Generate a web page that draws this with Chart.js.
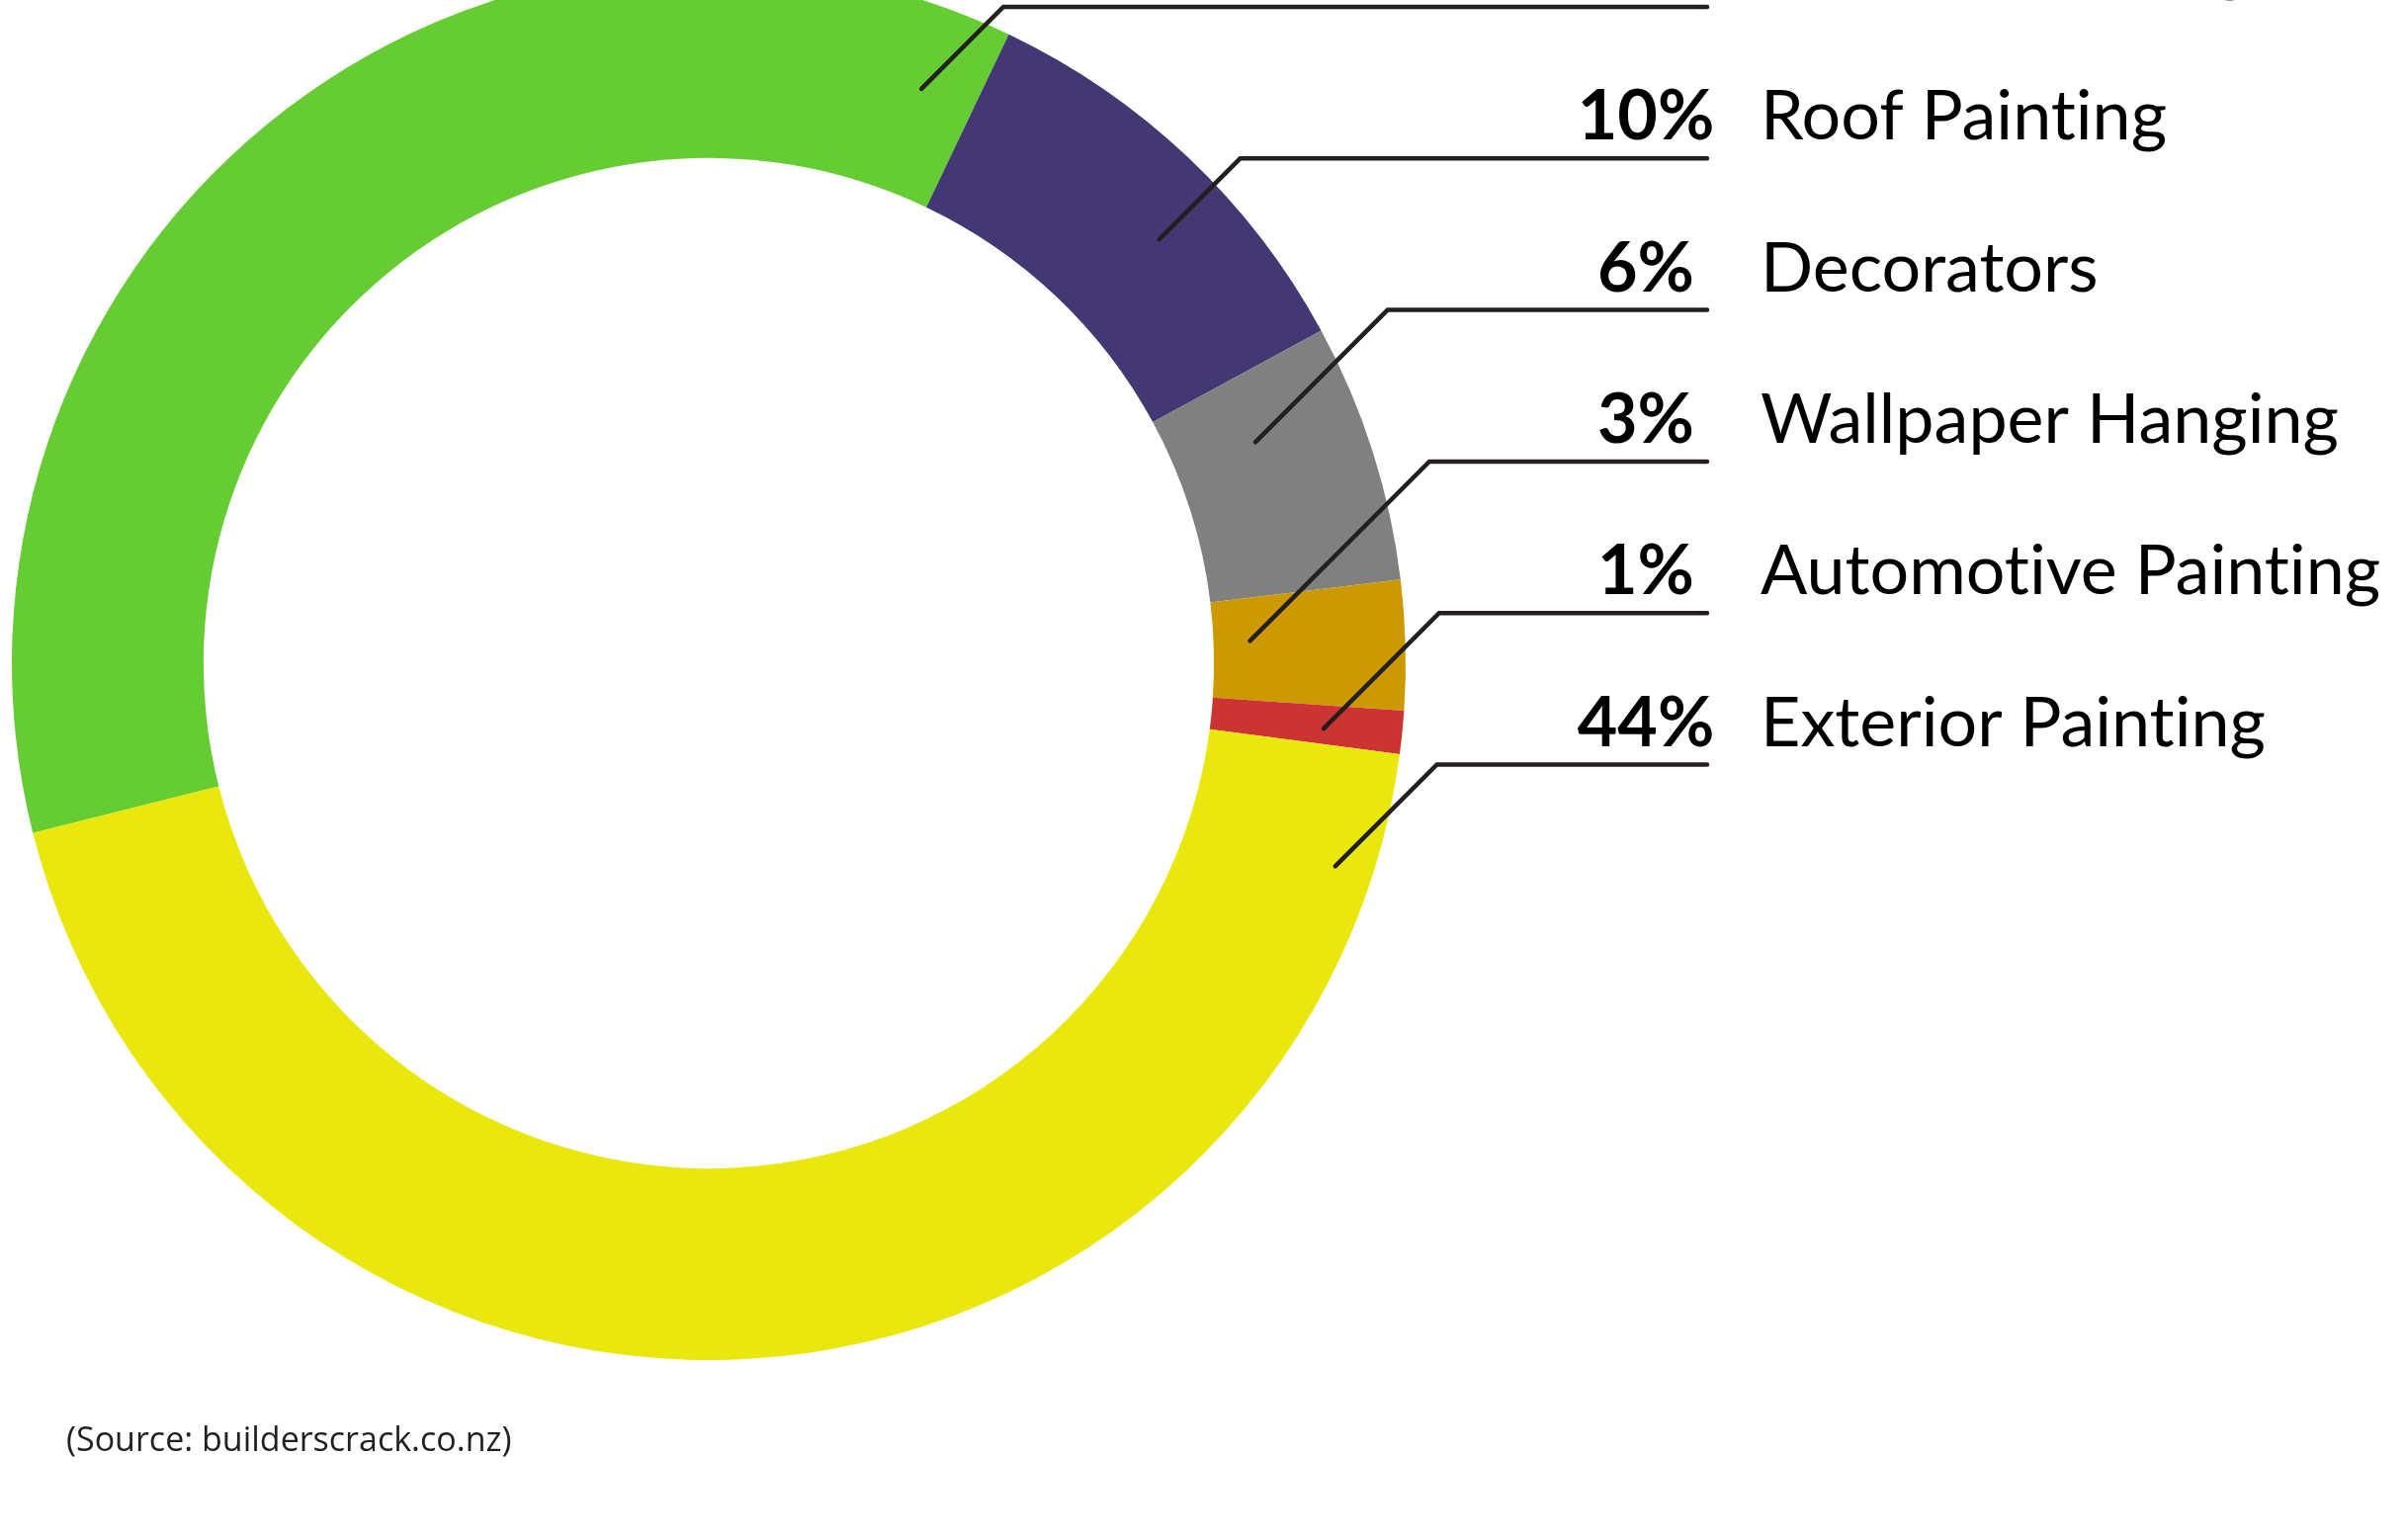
<!DOCTYPE html>
<html>
<head>
<meta charset="utf-8">
<script src="https://cdn.jsdelivr.net/npm/chart.js@4.4.1/dist/chart.umd.min.js"></script>
<style>
  html, body { margin: 0; padding: 0; background: #fff; overflow: hidden; }
  #wrap { position: relative; width: 2435px; height: 1558px; }
  #source {
    position: absolute; left: 67px; top: 1432px;
    font: 34px "Open Sans", sans-serif; color: #231f20; white-space: nowrap;
  }
</style>
</head>
<body>
<div id="wrap">
  <canvas id="chart"></canvas>
  <div id="source">(Source: builderscrack.co.nz)</div>
</div>
<script>
// data, top row of the legend first (the chart is cropped so row 1 sits off the top)
const categories = ['Interior Painting', 'Roof Painting', 'Decorators', 'Wallpaper Hanging', 'Automotive Painting', 'Exterior Painting'];
const shares = [36, 10, 6, 3, 1, 44];
const sliceColors = ['#66cc33', '#433873', '#808080', '#cc9900', '#cc3333', '#e9e70d'];

// draws the leader lines and the right-hand labels off the arc elements
const leaderLabels = {
  id: 'leaderLabels',
  afterDatasetsDraw(chart, args, opts) {
    const ctx = chart.ctx;
    const arcs = chart.getDatasetMeta(0).data;
    ctx.save();
    ctx.textRendering = 'optimizeSpeed'; // no "ti" ligature
    arcs.forEach((arc, i) => {
      const p = arc.getProps(['x', 'y', 'startAngle', 'endAngle', 'innerRadius', 'outerRadius'], true);
      const a = p.startAngle + opts.along[i] * (p.endAngle - p.startAngle);
      const r = p.innerRadius + opts.depth[i] * (p.outerRadius - p.innerRadius);
      const ax = p.x + r * Math.cos(a);
      const ay = p.y + r * Math.sin(a);
      const lineY = opts.firstRow + i * opts.rowGap;
      const elbowX = ax + (ay - lineY); // 45 degree run up to the row

      ctx.beginPath();
      ctx.moveTo(ax, ay);
      ctx.lineTo(elbowX, lineY);
      ctx.lineTo(opts.lineEnd, lineY);
      ctx.strokeStyle = '#231f20';
      ctx.lineWidth = 4.5;
      ctx.lineCap = 'round';
      ctx.lineJoin = 'miter';
      ctx.stroke();

      ctx.fillStyle = '#000';
      ctx.textBaseline = 'alphabetic';
      ctx.font = 'bold 70px Lato';
      ctx.textAlign = 'center';
      ctx.fillText(shares[i] + '%', opts.pctX, lineY - opts.textLift);
      ctx.font = '70px Lato';
      ctx.textAlign = 'left';
      ctx.fillText(categories[i], opts.nameX, lineY - opts.textLift);
    });
    ctx.restore();
  }
};

new Chart(document.getElementById('chart'), {
  type: 'doughnut',
  data: {
    labels: categories,
    datasets: [{
      data: shares,
      backgroundColor: sliceColors,
      borderWidth: 0,
      clip: false
    }]
  },
  options: {
    responsive: true,
    maintainAspectRatio: false,
    animation: false,
    events: [],
    rotation: -104.1,
    radius: 705,
    cutout: '72.5%',
    layout: { padding: { left: 0, top: 0, right: 1001, bottom: 216 } },
    plugins: {
      legend: { display: false },
      tooltip: { enabled: false },
      leaderLabels: {
        along: [0.96, 0.59, 0.30, 0.42, 0.60, 0.066],
        depth: [0.56, 0.59, 0.44, 0.19, 0.59, 0.80],
        firstRow: 7,
        rowGap: 153.3,
        lineEnd: 1727,
        pctX: 1665,
        nameX: 1781,
        textLift: 19
      }
    }
  },
  plugins: [leaderLabels]
});
</script>
</body>
</html>
